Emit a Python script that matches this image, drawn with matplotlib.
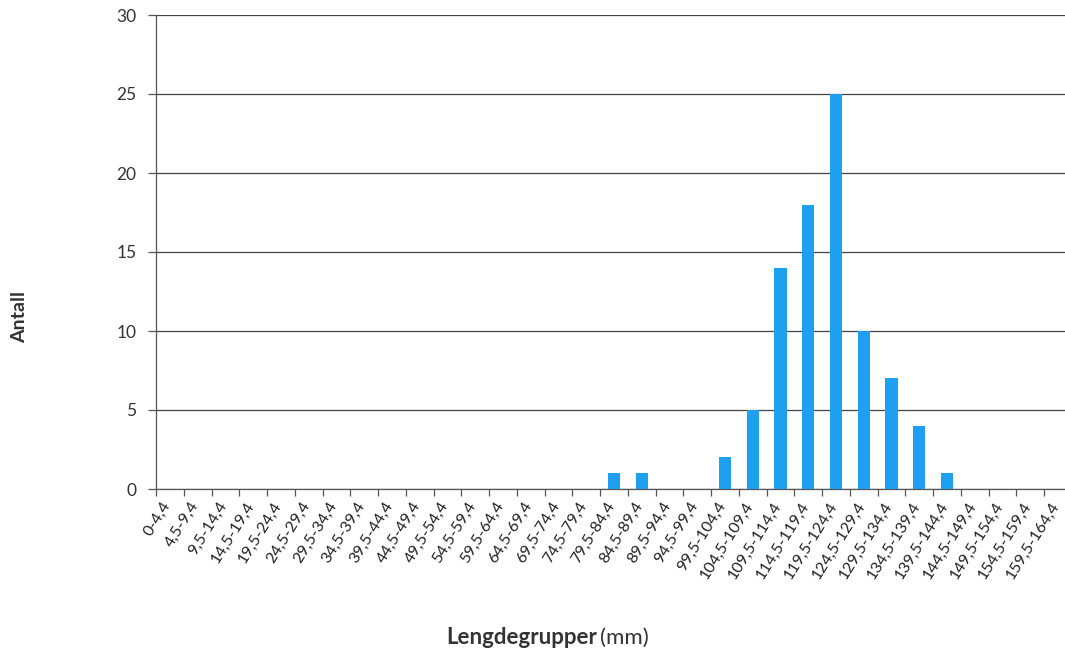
import matplotlib
matplotlib.use("Agg")
import matplotlib.pyplot as plt
import numpy as np

categories = ["0-4,4", "4,5-9,4", "9,5-14,4", "14,5-19,4", "19,5-24,4", "24,5-29,4",
              "29,5-34,4", "34,5-39,4", "39,5-44,4", "44,5-49,4", "49,5-54,4", "54,5-59,4",
              "59,5-64,4", "64,5-69,4", "69,5-74,4", "74,5-79,4", "79,5-84,4", "84,5-89,4",
              "89,5-94,4", "94,5-99,4", "99,5-104,4", "104,5-109,4", "109,5-114,4",
              "114,5-119,4", "119,5-124,4", "124,5-129,4", "129,5-134,4", "134,5-139,4",
              "139,5-144,4", "144,5-149,4", "149,5-154,4", "154,5-159,4", "159,5-164,4"]
antall = [0, 0, 0, 0, 0, 0, 0, 0, 0, 0, 0, 0, 0, 0, 0, 0, 1, 1, 0, 0, 2, 5, 14, 18, 25,
          10, 7, 4, 1, 0, 0, 0, 0]
y_ticks = [0, 5, 10, 15, 20, 25, 30]

plt.rcParams['font.family'] = ['Lato', 'DejaVu Sans']

fig = plt.figure(figsize=(10.65, 6.54), dpi=100)
ax = fig.add_axes([156/1065, 1-489/654, (1072-156)/1065, (489-15)/654])

n = len(categories)
x = np.arange(n) + 0.5
ax.bar(x, antall, width=0.44, color='#1E9FF0', zorder=3)

ax.set_xlim(0, n)
ax.set_ylim(0, 30)
ax.set_yticks(y_ticks)
ax.yaxis.grid(True, color='#444444', linewidth=0.9, zorder=0)
ax.set_xticks(np.arange(n + 1))
ax.set_xticklabels([])
for xi, lab in zip(x, categories):
    ax.annotate(lab, xy=(xi, 0), xycoords=('data', 'axes fraction'),
                xytext=(-1.5, -10), textcoords='offset points',
                rotation=58, ha='right', va='center', rotation_mode='anchor',
                fontsize=11.5, color='#222222', annotation_clip=False)
ax.tick_params(axis='x', which='major', length=5, color='#555555', width=0.9)
ax.tick_params(axis='y', length=6, color='#555555', width=0.9, labelsize=12.5,
               labelcolor='#333333', pad=8)

for s in ['top', 'right']:
    ax.spines[s].set_visible(False)
ax.spines['left'].set_color('#555555')
ax.spines['bottom'].set_color('#555555')
ax.spines['left'].set_linewidth(0.9)
ax.spines['bottom'].set_linewidth(0.9)

fig.text(20/1065, 1-317/654, "Antall", rotation=90, fontsize=14, fontweight='bold',
         color='#333333', ha='center', va='center')
fig.text(597/1065, 1-638/654, "Lengdegrupper", fontsize=16, fontweight='bold',
         color='#333333', ha='right', va='center')
fig.text(600/1065, 1-638/654, "(mm)", fontsize=16, color='#333333',
         ha='left', va='center')

fig.savefig("out.png", dpi=100)
